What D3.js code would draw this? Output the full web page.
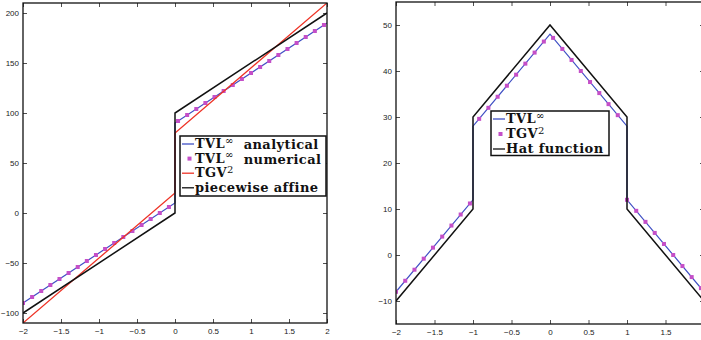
<!DOCTYPE html>
<html>
<head>
<meta charset="utf-8">
<script src="https://cdn.jsdelivr.net/npm/d3@7"></script>
<style>
  body { margin: 0; background: #fff; }
  .tick text { font-family: "Liberation Sans", Arial, sans-serif; font-size: 8px; fill: #222; }
  .legend text { font-family: "DejaVu Serif", serif; font-weight: bold; font-size: 13px; letter-spacing: 0.4px; fill: #111; }
</style>
</head>
<body>
<script>
// ---- data ----
const leftXTicks = [-2, -1.5, -1, -0.5, 0, 0.5, 1, 1.5, 2];
const rightXTicks = [-2, -1.5, -1, -0.5, 0, 0.5, 1, 1.5];   // the 2 falls outside the picture
const leftYTicks = [-100, -50, 0, 50, 100, 150, 200];
const rightYTicks = [-10, 0, 10, 20, 30, 40, 50];

// left panel: jump at 0
const jumpX = [-2, 0, 0, 2];
const affineY = [-100, 0, 100, 200];
const tvlAnalyticY = [-90, 10, 90, 190];
const tgvLeftY = [-110, 20, 80, 210];

const gridX = [-2, -1.88, -1.76, -1.64, -1.52, -1.40, -1.28, -1.16, -1.04, -0.92, -0.80, -0.68,
  -0.56, -0.44, -0.32, -0.20, -0.08, 0.04, 0.16, 0.28, 0.40, 0.52, 0.64, 0.76, 0.88, 1.00,
  1.12, 1.24, 1.36, 1.48, 1.60, 1.72, 1.84, 1.96];
const tvlNumericY = [-90, -84, -78, -72, -66, -60, -54, -48, -42, -36, -30, -24, -18, -12, -6, 0, 6,
  92, 98, 104, 110, 116, 122, 128, 134, 140, 146, 152, 158, 164, 170, 176, 182, 188];

// right panel: hat function
const hatX = [-2, -1, -1, 0, 1, 1, 2];
const hatY = [-10, 10, 30, 50, 30, 10, -10];
const tvlHatY = [-8, 12, 28, 48, 28, 12, -8];
const tgvHatY = [-8, -5.6, -3.2, -0.8, 1.6, 4, 6.4, 8.8, 11.2, 29.6, 32, 34.4, 36.8, 39.2, 41.6, 44,
  46.4, 47.2, 44.8, 42.4, 40, 37.6, 35.2, 32.8, 30.4, 12, 9.6, 7.2, 4.8, 2.4, 0, -2.4, -4.8, -7.2];

const BLUE = '#3f4fc4', MAGENTA = '#c44fc8', RED = '#ee3326', BLACK = '#111';

const svg = d3.select('body').append('svg')
    .attr('width', 701)
    .attr('height', 340);

const fmt = d3.format('~g');

function panel(id, xRange, yDomain, yRange, xTicks, yTicks) {
    const x = d3.scaleLinear().domain([-2, 2]).range(xRange);
    const y = d3.scaleLinear().domain(yDomain).range(yRange);
    const w = xRange[1] - xRange[0], h = yRange[0] - yRange[1];
    const g = svg.append('g');

    svg.append('clipPath').attr('id', id)
        .append('rect').attr('x', xRange[0]).attr('y', yRange[1]).attr('width', w).attr('height', h);

    const ax = (axis, tr, labels) => {
        const a = g.append('g').attr('transform', tr).call(axis);
        a.select('.domain').remove();
        a.selectAll('line').attr('stroke', '#222').attr('stroke-width', 0.8);
        if (!labels) a.selectAll('text').remove();
    };
    ax(d3.axisBottom(x).tickValues(xTicks).tickFormat(fmt).tickSizeInner(-4).tickSizeOuter(0).tickPadding(5),
       `translate(0,${yRange[0]})`, true);
    ax(d3.axisTop(x).tickValues(xTicks).tickSizeInner(-4).tickSizeOuter(0), `translate(0,${yRange[1]})`, false);
    ax(d3.axisLeft(y).tickValues(yTicks).tickFormat(fmt).tickSizeInner(-4).tickSizeOuter(0).tickPadding(4),
       `translate(${xRange[0]},0)`, true);
    ax(d3.axisRight(y).tickValues(yTicks).tickSizeInner(-4).tickSizeOuter(0), `translate(${xRange[1]},0)`, false);

    const plot = g.append('g').attr('clip-path', `url(#${id})`);
    const line = d3.line().x(d => x(d[0])).y(d => y(d[1]));
    const addLine = (xs, ys, color, width) => plot.append('path')
        .attr('d', line(xs.map((v, i) => [v, ys[i]])))
        .attr('fill', 'none').attr('stroke', color).attr('stroke-width', width)
        .attr('stroke-linejoin', 'miter');
    const addMarkers = (xs, ys) => plot.selectAll(null)
        .data(xs.map((v, i) => [v, ys[i]]))
        .join('rect')
        .attr('x', d => x(d[0]) - 2).attr('y', d => y(d[1]) - 2)
        .attr('width', 4).attr('height', 4).attr('fill', MAGENTA);

    g.append('rect')
        .attr('x', xRange[0]).attr('y', yRange[1]).attr('width', w).attr('height', h)
        .attr('fill', 'none').attr('stroke', BLACK).attr('stroke-width', 1.3);

    return { addLine, addMarkers };
}

// ---- left panel ----
const left = panel('clipL', [23, 327], [-110, 210], [323, 3], leftXTicks, leftYTicks);
left.addLine(jumpX, tvlAnalyticY, BLUE, 1.2);
left.addMarkers(gridX, tvlNumericY);
left.addLine(jumpX, tgvLeftY, RED, 1.3);
left.addLine(jumpX, affineY, BLACK, 1.5);

// ---- right panel ----
const right = panel('clipR', [396, 704], [-15, 55], [324, 2], rightXTicks, rightYTicks);
right.addLine(hatX, tvlHatY, BLUE, 1.2);
right.addMarkers(gridX, tgvHatY);
right.addLine(hatX, hatY, BLACK, 1.5);

// ---- legends ----
function legend(box, entries, spacing) {
    const g = svg.append('g').attr('class', 'legend');
    g.append('rect')
        .attr('x', box[0]).attr('y', box[1]).attr('width', box[2]).attr('height', box[3])
        .attr('fill', '#fff').attr('stroke', BLACK).attr('stroke-width', 1.5);
    entries.forEach((e, i) => {
        const base = box[1] + 12 + i * spacing;
        const mid = base - 4;
        if (e.marker) {
            g.append('rect').attr('x', box[0] + 7.5).attr('y', mid - 2).attr('width', 4).attr('height', 4).attr('fill', MAGENTA);
        } else {
            g.append('line').attr('x1', box[0] + 2).attr('x2', box[0] + 14).attr('y1', mid).attr('y2', mid)
                .attr('stroke', e.color).attr('stroke-width', 1.3);
        }
        const t = g.append('text').attr('x', box[0] + 15).attr('y', base);
        t.append('tspan').text(e.label);
        if (e.sup) {
            t.append('tspan').attr('dy', '-0.42em').style('font-size', '10px').style('font-weight', 'normal').text(e.sup);
            if (e.rest) t.append('tspan').attr('dy', '0.42em').attr('xml:space', 'preserve').text(e.rest);
        }
    });
}

legend([180, 136, 146, 60], [
    { label: 'TVL', sup: '∞', rest: '\u00a0 analytical', color: BLUE },
    { label: 'TVL', sup: '∞', rest: '\u00a0 numerical', marker: true },
    { label: 'TGV', sup: '2', color: RED },
    { label: 'piecewise affine', color: BLACK }
], 14.6);

legend([491, 111, 118, 44.5], [
    { label: 'TVL', sup: '∞', color: BLUE },
    { label: 'TGV', sup: '2', marker: true },
    { label: 'Hat function', color: BLACK }
], 15);
</script>
</body>
</html>
